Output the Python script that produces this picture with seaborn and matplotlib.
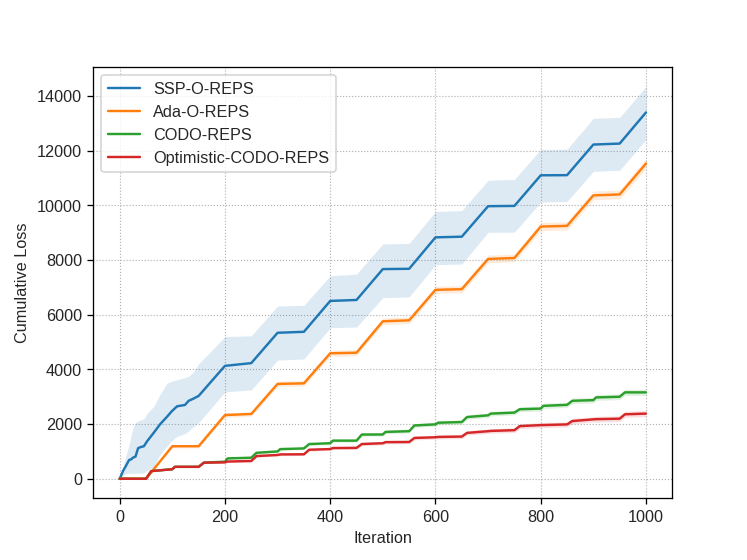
import numpy as np
import pandas as pd
import matplotlib
matplotlib.use("Agg")
import matplotlib.pyplot as plt
import seaborn as sns

# SSP-O-REPS (mean with upper/lower band)
ssp_iter=[0,7,11,18,22,25,30,35,40,46,52,65,77,90,99,109,124,131,140,150,200,250,300,350,400,450,500,550,600,650,700,750,800,850,900,950,1000]
ssp_mean=[0,310,440,690,710,770,810,1120,1160,1190,1370,1690,2000,2270,2470,2650,2700,2850,2930,3030,4130,4230,5340,5375,6505,6540,7670,7680,8830,8855,9970,9980,11100,11105,12225,12260,13400]
ssp_upper=[0,500,800,1250,1600,1850,2060,2120,2150,2185,2400,2650,3100,3500,3570,3620,3700,3745,3900,4200,5200,5230,6320,6345,7425,7485,8590,8610,9775,9810,10915,10950,12045,12055,13185,13220,14345]
ssp_lower=[0,120,190,200,200,200,205,205,210,210,300,450,900,1200,1400,1550,1650,1750,1900,2050,3180,3250,4340,4380,5525,5550,6625,6650,7830,7855,9015,9020,10120,10145,11245,11285,12410]

# Ada-O-REPS
ada_iter=[0,50,100,150,200,250,300,350,400,450,500,550,600,650,700,750,800,850,900,950,1000]
ada_mean=[0,0,1190,1190,2330,2370,3470,3490,4590,4610,5760,5795,6910,6935,8040,8075,9225,9250,10365,10400,11530]
ada_half=[0,0,60,60,80,80,100,100,110,110,120,120,130,130,140,140,150,150,160,160,180]

# CODO-REPS and Optimistic-CODO-REPS
codo_iter=[0,50,60,100,105,150,160,200,205,250,260,300,305,350,360,400,405,450,460,500,505,550,560,600,605,650,660,700,705,750,760,800,805,850,860,900,905,950,960,1000]
codo_mean=[0,0,280,350,437,437,590,625,745,770,950,1000,1085,1110,1270,1300,1395,1395,1617,1620,1714,1740,1950,1990,2050,2075,2258,2320,2383,2420,2543,2567,2667,2704,2852,2876,2975,3000,3160,3160]
opt_mean=[0,0,280,350,437,437,590,600,630,650,830,870,890,895,1061,1086,1124,1130,1270,1300,1340,1345,1493,1518,1530,1543,1678,1740,1750,1777,1924,1963,1965,1988,2111,2173,2180,2198,2358,2383]
codo_half=[0,0,20,20,25,25,30,30,35,35,40,40,45,45,50,50,55,55,60,60,65,65,70,70,75,75,80,80,85,85,90,90,95,95,100,100,105,105,110,110]

labels=["SSP-O-REPS","Ada-O-REPS","CODO-REPS","Optimistic-CODO-REPS"]
colors=sns.color_palette("tab10",4)

sns.set_style("white")
plt.rcParams['font.family']=['Liberation Sans','DejaVu Sans']

fig,ax=plt.subplots(figsize=(6.4,4.8),dpi=116.72)

series=[
    (ssp_iter,ssp_mean,ssp_lower,ssp_upper),
    (ada_iter,ada_mean,np.array(ada_mean)-np.array(ada_half),np.array(ada_mean)+np.array(ada_half)),
    (codo_iter,codo_mean,np.array(codo_mean)-np.array(codo_half),np.array(codo_mean)+np.array(codo_half)),
    (codo_iter,opt_mean,np.array(opt_mean)-np.array(codo_half),np.array(opt_mean)+np.array(codo_half)),
]

for (x,m,lo,hi),lab,c in zip(series,labels,colors):
    df=pd.DataFrame({'Iteration':x,'Loss':m})
    sns.lineplot(data=df,x='Iteration',y='Loss',ax=ax,color=c,label=lab,linewidth=1.5,sort=False)
    ax.fill_between(x,lo,hi,color=c,alpha=0.15,linewidth=0)

ax.grid(True,linestyle=':',linewidth=0.7,color='#b0b0b0')
for s in ax.spines.values():
    s.set_color('black')
    s.set_linewidth(0.8)
ax.tick_params(axis='both',which='major',direction='out',length=3.5,width=0.8,color='black',bottom=True,left=True)
ax.set_xlabel("Iteration")
ax.set_ylabel("Cumulative Loss")
ax.set_xticks([0,200,400,600,800,1000])
ax.set_yticks([0,2000,4000,6000,8000,10000,12000,14000])
ax.legend(loc='upper left')

plt.subplots_adjust(left=0.125,right=0.9,bottom=0.11,top=0.88)
plt.savefig("out.png")
